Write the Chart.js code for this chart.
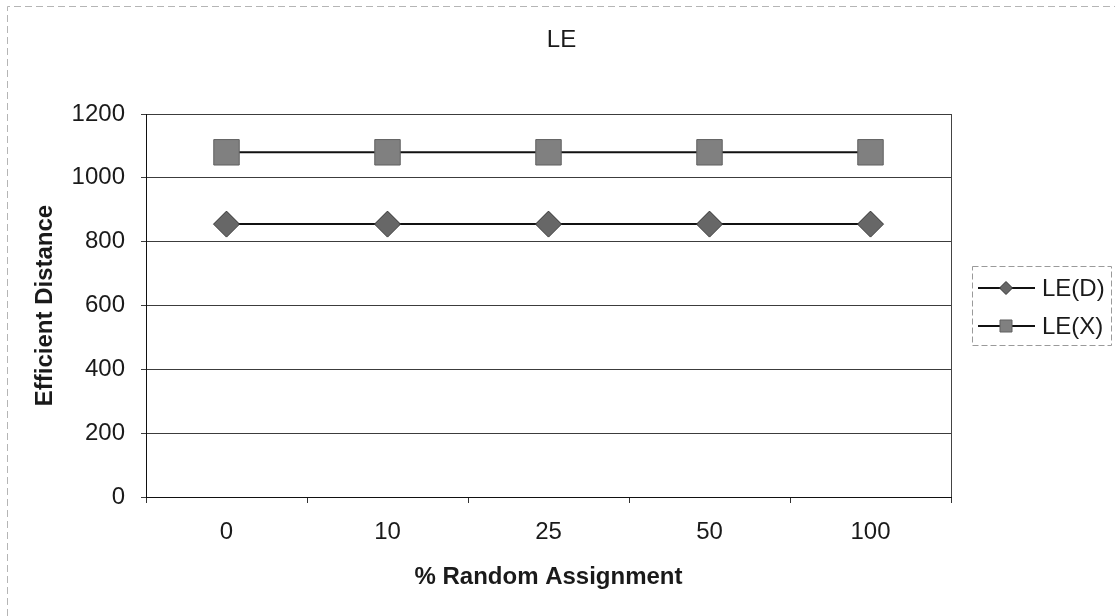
<!DOCTYPE html>
<html>
<head>
<meta charset="utf-8">
<title>LE</title>
<script src="https://cdn.jsdelivr.net/npm/chart.js@4/dist/chart.umd.min.js"></script>
<style>
  html, body { margin: 0; padding: 0; background: #fff; }
  #wrap { width: 1115px; height: 616px; }
</style>
</head>
<body>
<div id="wrap"><canvas id="chart" width="1115" height="616"></canvas></div>
<script>
// Categories and series values
const categories = ['0', '10', '25', '50', '100'];
const seriesNames = ['LE(D)', 'LE(X)'];
const leD = [855, 855, 855, 855, 855];
const leX = [1080, 1080, 1080, 1080, 1080];
const yTickValues = [0, 200, 400, 600, 800, 1000, 1200];
const chartTitle = 'LE';
const xTitle = '% Random Assignment';
const yTitle = 'Efficient Distance';

const FONT = "'Liberation Sans', Arial, sans-serif";
const INK = '#1a1a1a';

// Page frame, chart title and the plot's right edge
const framePlugin = {
  id: 'frame',
  beforeDraw(chart) {
    const ctx = chart.ctx;
    ctx.save();
    ctx.strokeStyle = '#b5b5b5';
    ctx.lineWidth = 1;
    ctx.setLineDash([7, 4]);
    ctx.beginPath();
    ctx.moveTo(7.5, chart.height);
    ctx.lineTo(7.5, 6.5);
    ctx.lineTo(chart.width, 6.5);
    ctx.stroke();
    ctx.restore();
  },
  afterDraw(chart) {
    const ctx = chart.ctx;
    const a = chart.chartArea;
    ctx.save();
    ctx.strokeStyle = '#444';
    ctx.lineWidth = 1;
    ctx.beginPath();
    ctx.moveTo(Math.round(a.right) + 0.5, a.top);
    ctx.lineTo(Math.round(a.right) + 0.5, a.bottom);
    ctx.stroke();
    ctx.fillStyle = INK;
    ctx.font = '24px ' + FONT;
    ctx.textAlign = 'center';
    ctx.textBaseline = 'middle';
    ctx.fillText(chartTitle, chart.width / 2 + 4, 40);
    ctx.restore();
  }
};

// Boxed key to the right of the plot: line with marker, then the series name
const keyPlugin = {
  id: 'sideKey',
  afterDraw(chart) {
    const ctx = chart.ctx;
    const box = { x: 972.5, y: 266.5, w: 139, h: 79 };
    ctx.save();
    ctx.strokeStyle = '#9a9a9a';
    ctx.lineWidth = 1;
    ctx.setLineDash([6, 3]);
    ctx.strokeRect(box.x, box.y, box.w, box.h);
    ctx.setLineDash([]);
    const rows = [288, 326];
    chart.data.datasets.forEach((ds, i) => {
      const y = rows[i];
      ctx.strokeStyle = ds.borderColor;
      ctx.lineWidth = 2;
      ctx.beginPath();
      ctx.moveTo(978, y);
      ctx.lineTo(1035, y);
      ctx.stroke();
      ctx.fillStyle = ds.pointBackgroundColor;
      ctx.strokeStyle = ds.pointBorderColor;
      ctx.lineWidth = 1;
      Chart.helpers.drawPoint(ctx, {
        pointStyle: ds.pointStyle,
        radius: ds.pointStyle === 'rect' ? 8.5 : 6.5,
        rotation: 0,
        borderWidth: 1
      }, 1006, y);
      ctx.fillStyle = INK;
      ctx.font = '24px ' + FONT;
      ctx.textAlign = 'left';
      ctx.textBaseline = 'middle';
      ctx.fillText(ds.label, 1042, y + 1);
    });
    ctx.restore();
  }
};

new Chart(document.getElementById('chart'), {
  type: 'line',
  data: {
    labels: categories,
    datasets: [
      {
        label: seriesNames[0],
        data: leD,
        borderColor: '#111',
        borderWidth: 2,
        pointStyle: 'rectRot',
        pointRadius: 13,
        pointBackgroundColor: '#676767',
        pointBorderColor: '#333',
        pointBorderWidth: 1,
        fill: false,
        tension: 0
      },
      {
        label: seriesNames[1],
        data: leX,
        borderColor: '#111',
        borderWidth: 2,
        pointStyle: 'rect',
        pointRadius: 18,
        pointBackgroundColor: '#808080',
        pointBorderColor: '#606060',
        pointBorderWidth: 1,
        fill: false,
        tension: 0
      }
    ]
  },
  options: {
    responsive: false,
    animation: false,
    events: [],
    layout: { padding: { left: 0, right: 164, top: 114, bottom: 0 } },
    plugins: {
      legend: { display: false },
      tooltip: { enabled: false },
      title: { display: false }
    },
    scales: {
      x: {
        type: 'category',
        offset: true,
        grid: {
          display: true,
          drawOnChartArea: false,
          offset: true,
          tickLength: 6,
          color: '#333',
          lineWidth: 1
        },
        border: { display: true, color: '#111', width: 1 },
        ticks: {
          padding: 15,
          color: INK,
          font: { family: FONT, size: 24 }
        },
        title: {
          display: true,
          text: xTitle,
          color: INK,
          font: { family: FONT, size: 24, weight: 'bold' },
          padding: { top: 0, bottom: 24.6 }
        },
        afterFit(scale) { scale.height = 119; }
      },
      y: {
        min: 0,
        max: 1200,
        afterBuildTicks(scale) {
          scale.ticks = yTickValues.map(v => ({ value: v }));
        },
        grid: {
          color: '#3c3c3c',
          lineWidth: 1,
          tickLength: 5
        },
        border: { display: true, color: '#111', width: 1 },
        ticks: {
          padding: 16,
          color: INK,
          font: { family: FONT, size: 24 },
          callback: (value) => String(value)
        },
        title: {
          display: true,
          text: yTitle,
          color: INK,
          font: { family: FONT, size: 24, weight: 'bold' },
          padding: { top: 30.6, bottom: 0 }
        },
        afterFit(scale) { scale.width = 146; }
      }
    }
  },
  plugins: [framePlugin, keyPlugin]
});
</script>
</body>
</html>
